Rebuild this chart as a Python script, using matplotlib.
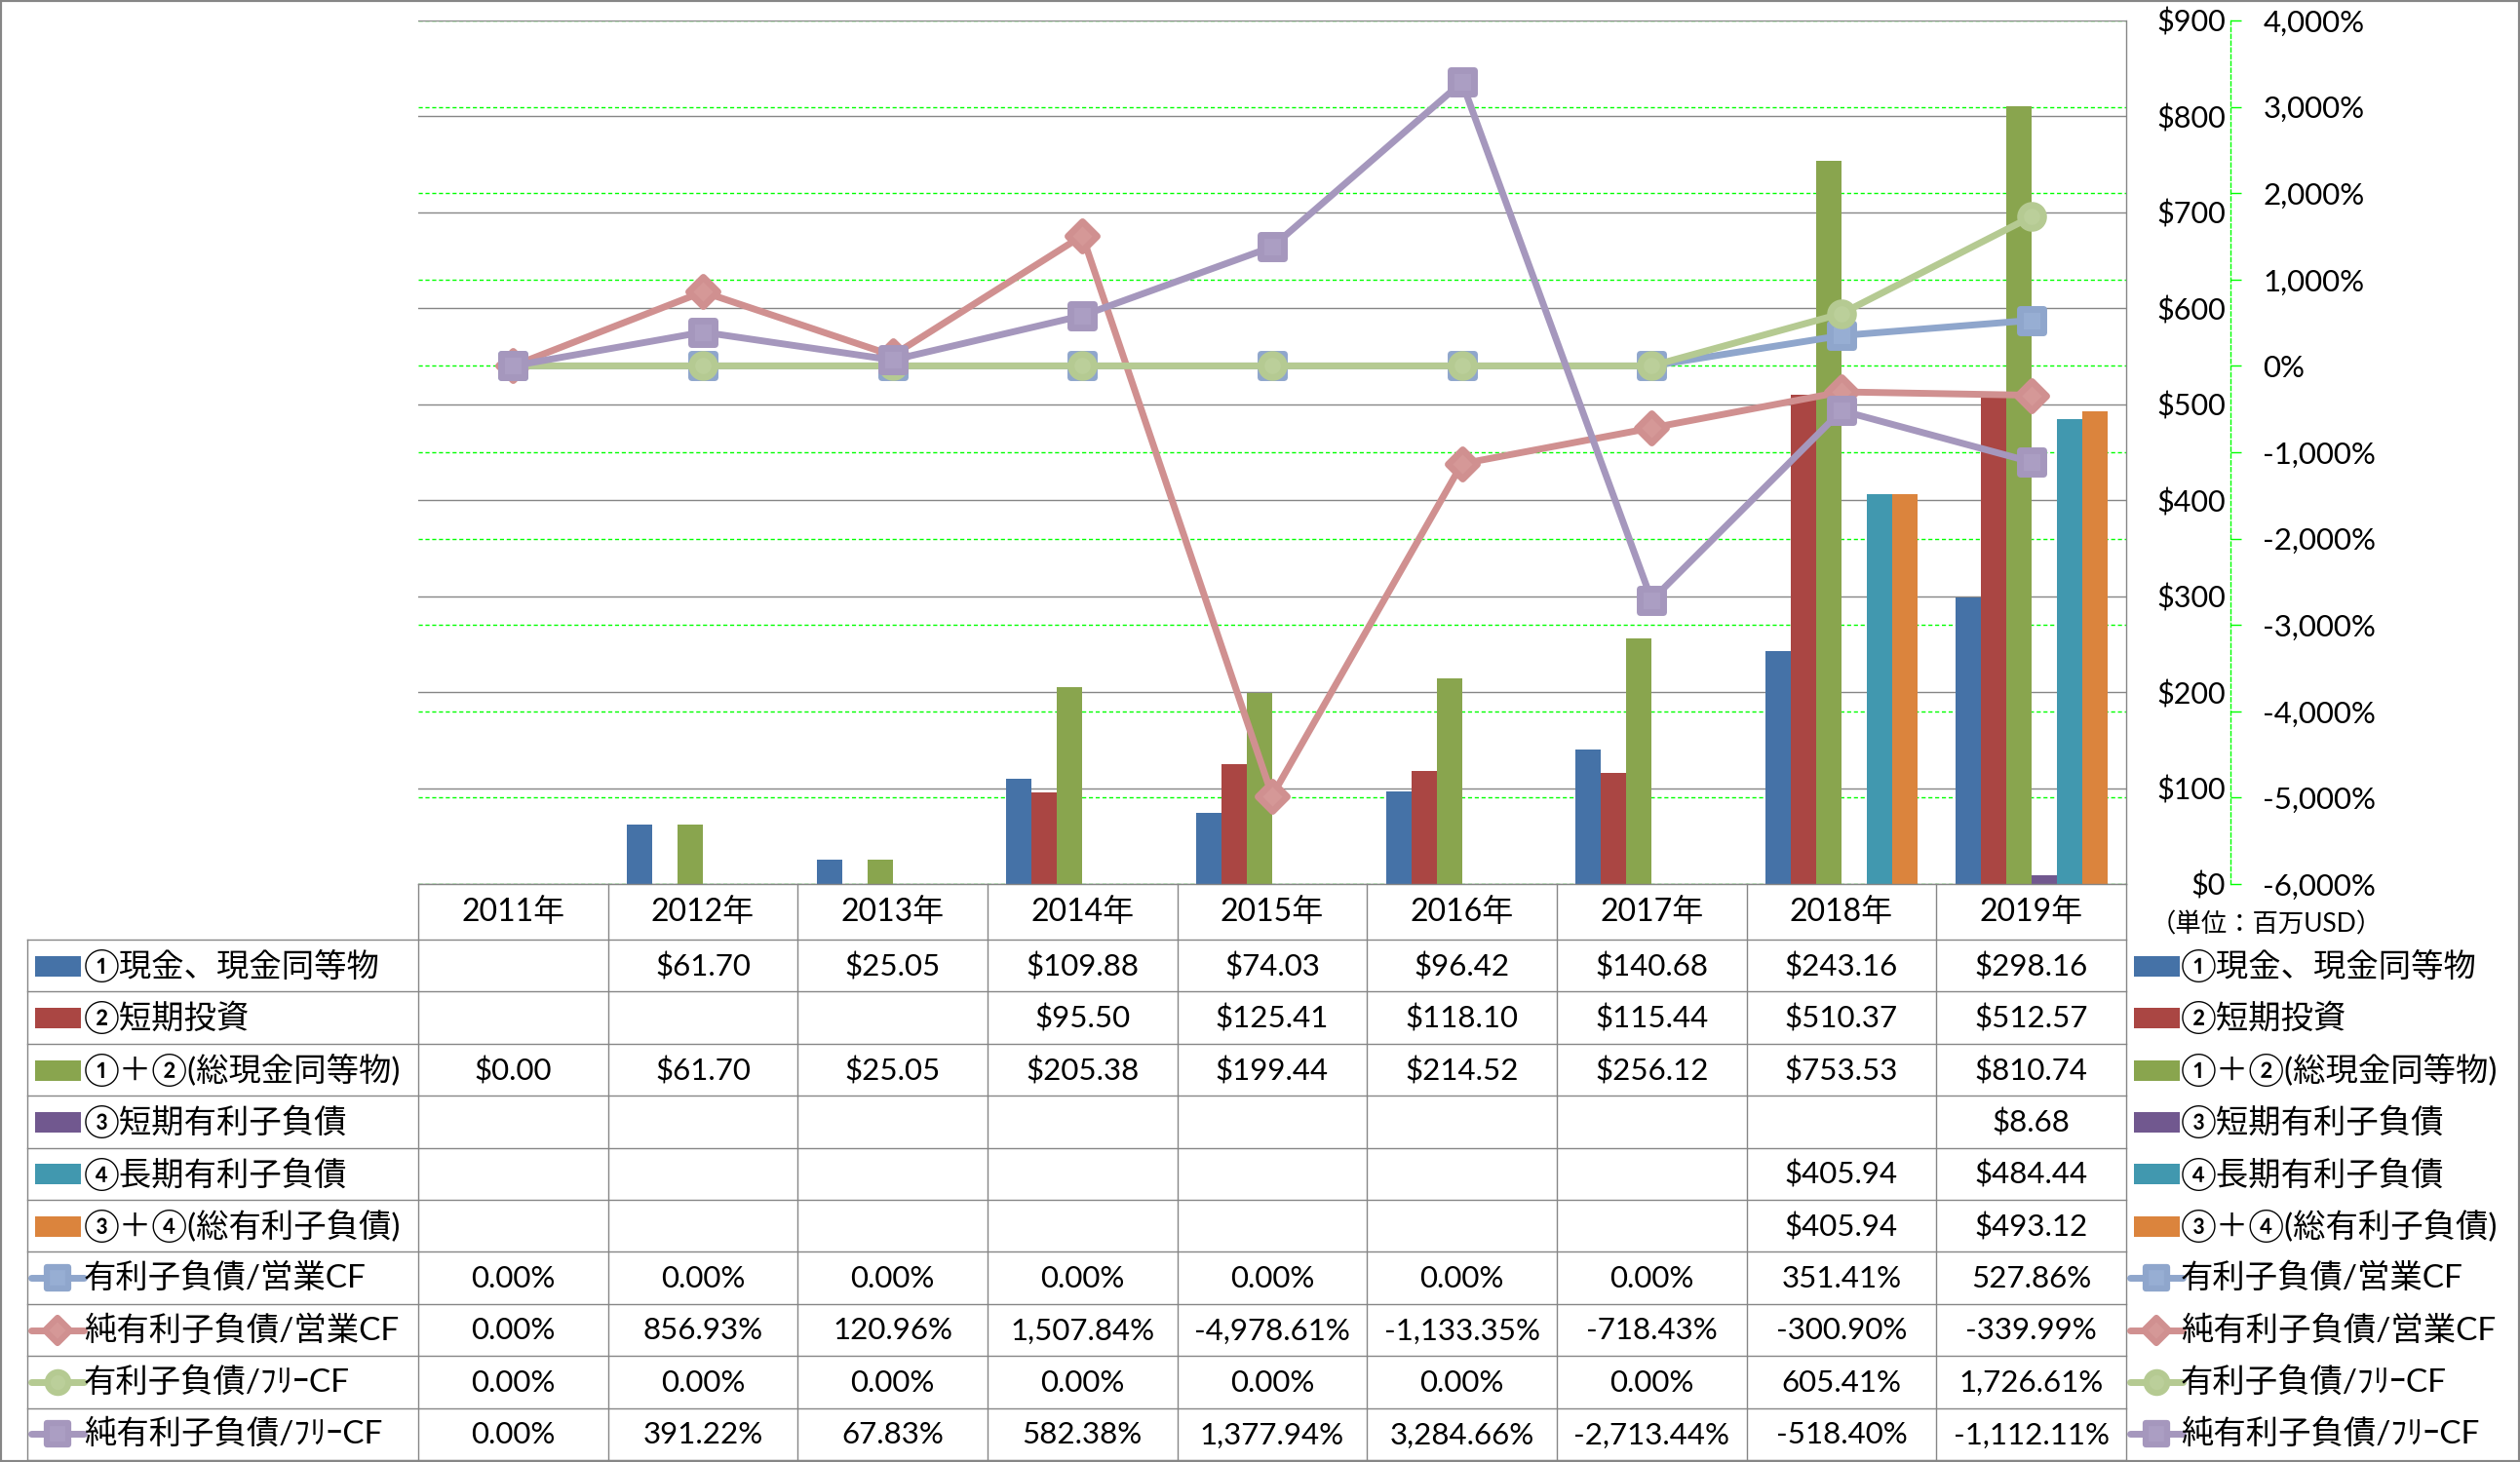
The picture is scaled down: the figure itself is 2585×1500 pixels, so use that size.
import numpy as np
import matplotlib
matplotlib.use('Agg')
import matplotlib.pyplot as plt
from matplotlib.markers import MarkerStyle
from matplotlib.patches import Rectangle

plt.rcParams['font.family'] = ['Lato', 'Noto Sans CJK JP']

# データ（単位：百万USD / %）
years = ['2011年', '2012年', '2013年', '2014年', '2015年', '2016年', '2017年', '2018年', '2019年']
cash = [None, 61.70, 25.05, 109.88, 74.03, 96.42, 140.68, 243.16, 298.16]
short_inv = [None, None, None, 95.50, 125.41, 118.10, 115.44, 510.37, 512.57]
total_cash = [0.00, 61.70, 25.05, 205.38, 199.44, 214.52, 256.12, 753.53, 810.74]
short_debt = [None, None, None, None, None, None, None, None, 8.68]
long_debt = [None, None, None, None, None, None, None, 405.94, 484.44]
total_debt = [None, None, None, None, None, None, None, 405.94, 493.12]

debt_ocf = [0.00, 0.00, 0.00, 0.00, 0.00, 0.00, 0.00, 351.41, 527.86]
net_debt_ocf = [0.00, 856.93, 120.96, 1507.84, -4978.61, -1133.35, -718.43, -300.90, -339.99]
debt_fcf = [0.00, 0.00, 0.00, 0.00, 0.00, 0.00, 0.00, 605.41, 1726.61]
net_debt_fcf = [0.00, 391.22, 67.83, 582.38, 1377.94, 3284.66, -2713.44, -518.40, -1112.11]

bar_labels = ['①現金、現金同等物', '②短期投資', '①＋②(総現金同等物)',
              '③短期有利子負債', '④長期有利子負債', '③＋④(総有利子負債)']
line_labels = ['有利子負債/営業CF', '純有利子負債/営業CF', '有利子負債/ﾌﾘｰCF', '純有利子負債/ﾌﾘｰCF']

bar_series = [cash, short_inv, total_cash, short_debt, long_debt, total_debt]
line_series = [debt_ocf, net_debt_ocf, debt_fcf, net_debt_fcf]

bar_colors = ['#4572A7', '#AA4643', '#89A54E', '#71588F', '#4198AF', '#DB843D']
line_colors = ['#8FA6CC', '#D09090', '#B5CA92', '#A597BD']
face_colors = ['#97AED3', '#D59897', '#BBCF9A', '#AB9EC3']
line_markers = ['s', 'D', 'o', 's']
marker_sizes = [17, 15, 17, 17]

usd_ticks = list(range(0, 901, 100))
pct_ticks = list(range(-6000, 4001, 1000))

# レイアウト（ピクセル）
W, H = 2585, 1500
PL, PR, PT, PB = 429, 2181, 21, 907
TL = 28
HDR = 57
ROW = 53.4
GRAY = '#868686'

fig = plt.figure(figsize=(W / 100, H / 100), dpi=100)
rect = [PL / W, 1 - PB / H, (PR - PL) / W, (PB - PT) / H]

# 第2軸のグリッド（棒の後ろ）
ax_g = fig.add_axes(rect, zorder=0)
ax_g.set_xlim(-0.5, 8.5)
ax_g.set_ylim(-6000, 4000)
ax_g.set_yticks(pct_ticks)
ax_g.grid(axis='y', color='#00FF00', linestyle=(0, (3, 2)), linewidth=1.0)
ax_g.tick_params(left=False, bottom=False, labelleft=False, labelbottom=False)
for s in ax_g.spines.values():
    s.set_visible(False)

# 棒グラフ
ax1 = fig.add_axes(rect, zorder=1)
ax1.patch.set_visible(False)
ax2 = ax1.twinx()
ax2.set_zorder(2)
ax2.patch.set_visible(False)

x = np.arange(len(years))
bw = 0.8 / 6
for k, (vals, col) in enumerate(zip(bar_series, bar_colors)):
    v = np.array([np.nan if a is None else a for a in vals], dtype=float)
    ax1.bar(x + (k - 2.5) * bw, v, bw, color=col, zorder=2)
ax1.set_xlim(-0.5, 8.5)
ax1.set_ylim(0, 900)
ax1.set_xticks([])
ax1.set_yticks(usd_ticks, labels=['${:,}'.format(t) for t in usd_ticks])
ax1.yaxis.tick_right()
ax1.tick_params(axis='y', left=False, right=False, labelleft=False, labelright=True,
                length=0, pad=73.4, labelsize=22)
for tick in ax1.yaxis.get_major_ticks():
    tick.label2.set_horizontalalignment('right')
ax1.grid(axis='y', color=GRAY, linewidth=1.0)
ax1.set_axisbelow(True)
for side in ['left', 'top', 'bottom']:
    ax1.spines[side].set_visible(False)
ax1.spines['right'].set_color(GRAY)
ax1.spines['right'].set_linewidth(1.0)

# 折れ線（第2軸）
for vals, col, fc, mk, ms in zip(line_series, line_colors, face_colors, line_markers, marker_sizes):
    ax2.plot(x, vals, color=col, linewidth=5, solid_joinstyle='round',
             marker=MarkerStyle(mk, joinstyle='round'), markersize=ms,
             markerfacecolor=fc, markeredgecolor=col, markeredgewidth=5)
ax2.set_ylim(-6000, 4000)
ax2.set_yticks(pct_ticks, labels=['{:,}%'.format(t) for t in pct_ticks])
ax2.tick_params(axis='y', direction='out', length=8, width=1, color='#00FF00',
                pad=16, labelsize=22.5)
for t, tick in zip(pct_ticks, ax2.yaxis.get_major_ticks()):
    tick.label2.set_color('#FF0000' if t < 0 else 'black')
for side in ['left', 'top', 'bottom']:
    ax2.spines[side].set_visible(False)
ax2.spines['right'].set_position(('outward', 77))
ax2.spines['right'].set_color('#00FF00')
ax2.spines['right'].set_linestyle((0, (3, 2)))
ax2.spines['right'].set_linewidth(1.0)

# データテーブルと凡例
ax_t = fig.add_axes([0, 0, 1, 1], zorder=3)
ax_t.set_xlim(0, W)
ax_t.set_ylim(H, 0)
ax_t.axis('off')

colw = (PR - PL) / len(years)
row_top = [PB + HDR + ROW * r for r in range(11)]
ax_t.plot([PL, PR], [PB, PB], color=GRAY, lw=1.0)
for y in row_top:
    ax_t.plot([TL, PR], [y, y], color=GRAY, lw=1.0)
ax_t.plot([TL, TL], [row_top[0], row_top[-1]], color=GRAY, lw=1.0)
for j in range(len(years) + 1):
    xx = PL + colw * j
    ax_t.plot([xx, xx], [PB, row_top[-1]], color=GRAY, lw=1.0)

for i, yr in enumerate(years):
    ax_t.text(PL + colw * (i + 0.5), PB + HDR / 2 + 1, yr, ha='center', va='center', fontsize=23)

rows_text = []
for vals in bar_series:
    rows_text.append(['' if v is None else '${:,.2f}'.format(v) for v in vals])
for vals in line_series:
    rows_text.append(['{:,.2f}%'.format(v) for v in vals])

for r, cells in enumerate(rows_text):
    cy = row_top[r] + ROW / 2
    for i, s in enumerate(cells):
        ax_t.text(PL + colw * (i + 0.5), cy + 1, s, ha='center', va='center', fontsize=22.5)

# 凡例（左：テーブル内、右：外側）
for r in range(10):
    cy = row_top[r] + ROW / 2
    for sx, tx, ms_scale in [(36, 86, 0.9), (2189, 2237, 0.9)]:
        if r < 6:
            ax_t.add_patch(Rectangle((sx, cy - 10), 47, 21, color=bar_colors[r], lw=0))
            label = bar_labels[r]
        else:
            k = r - 6
            ax_t.plot([sx - 4, sx + 50], [cy, cy], color=line_colors[k], lw=5,
                      solid_capstyle='round')
            ax_t.plot([sx + 23], [cy], color=line_colors[k],
                      marker=MarkerStyle(line_markers[k], joinstyle='round'),
                      markersize=marker_sizes[k] * ms_scale,
                      markerfacecolor=face_colors[k], markeredgecolor=line_colors[k],
                      markeredgewidth=4.5)
            label = line_labels[k]
        ax_t.text(tx, cy, label, ha='left', va='center', fontsize=24)

ax_t.text(2206, 949, '（単位：百万USD）', ha='left', va='center', fontsize=19)

# 外枠
fig.patches.append(Rectangle((0, 0), 1, 1, transform=fig.transFigure, fill=False,
                             edgecolor=GRAY, linewidth=3, zorder=10))

fig.savefig('out.png', dpi=100)
